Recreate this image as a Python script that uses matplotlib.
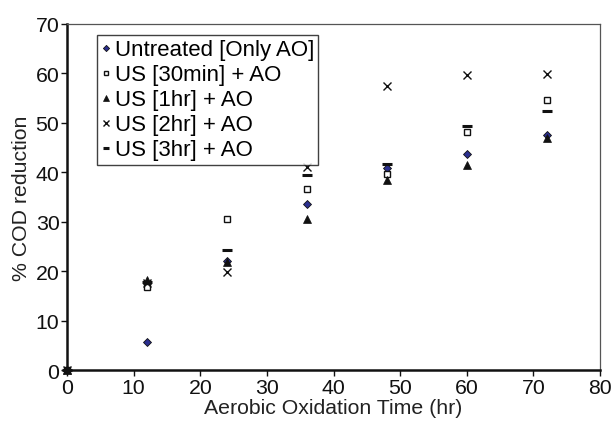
import matplotlib
matplotlib.use("Agg")
import matplotlib.pyplot as plt

plt.rcParams['font.family'] = ['Liberation Sans', 'DejaVu Sans']

time_hr = [0, 12, 24, 36, 48, 60, 72]
untreated = [0, 5.7, 22.0, 33.5, 40.9, 43.7, 47.5]
us_30min = [0, 16.8, 30.5, 36.6, 39.7, 48.2, 54.7]
us_1hr = [0, 18.2, 21.8, 30.5, 38.4, 41.5, 47.0]
us_2hr = [0, 17.6, 19.9, 41.0, 57.4, 59.6, 59.8]
us_3hr = [0, 17.8, 24.3, 39.5, 41.7, 49.4, 52.5]

labels = ["Untreated [Only AO]", "US [30min] + AO", "US [1hr] + AO",
          "US [2hr] + AO", "US [3hr] + AO"]

FS = 15.3

fig = plt.figure(figsize=(6.16, 4.27), dpi=100)
ax = fig.add_axes([0.1088, 0.131, 0.8652, 0.8105])

ax.plot(time_hr, untreated, linestyle='none', marker='D', ms=4.5,
        mfc='#2b2f8f', mec='#111111', mew=0.6, label=labels[0], clip_on=False)
ax.plot(time_hr, us_30min, linestyle='none', marker='s', ms=5,
        mfc='white', mec='#111111', mew=1.0, label=labels[1], clip_on=False)
ax.plot(time_hr, us_1hr, linestyle='none', marker='^', ms=6,
        mfc='#111111', mec='#111111', mew=0.5, label=labels[2], clip_on=False)
ax.plot(time_hr, us_2hr, linestyle='none', marker='x', ms=6,
        mec='#111111', mew=1.0, label=labels[3], clip_on=False)
ax.plot(time_hr, us_3hr, linestyle='none', marker='_', ms=7,
        mec='#111111', mew=2.2, label=labels[4], clip_on=False)

ax.set_xlim(0, 80)
ax.set_ylim(0, 70)
ax.set_xticks(range(0, 81, 10))
ax.set_yticks(range(0, 71, 10))

for s in ['left', 'bottom']:
    ax.spines[s].set_linewidth(1.8)
    ax.spines[s].set_color('#111111')
for s in ['top', 'right']:
    ax.spines[s].set_linewidth(0.9)
    ax.spines[s].set_color('#555555')

ax.tick_params(axis='both', which='both', direction='out', length=4,
               width=1.0, labelsize=FS, colors='#111111', pad=1.5)
ax.tick_params(top=False, right=False)

ax.set_xlabel("Aerobic Oxidation Time (hr)", fontsize=FS, color='#222222', labelpad=1)
ax.set_ylabel("% COD reduction", fontsize=FS, color='#222222', labelpad=3)

leg = ax.legend(loc='upper left', bbox_to_anchor=(0.056, 0.968), fontsize=16,
                frameon=True, fancybox=False, shadow=False, borderaxespad=0,
                handlelength=0.4, handletextpad=0.2, labelspacing=0.18,
                borderpad=0.2, markerscale=0.7)
leg.get_frame().set_edgecolor('#111111')
leg.get_frame().set_linewidth(1.0)

fig.savefig("out.png", dpi=100)
